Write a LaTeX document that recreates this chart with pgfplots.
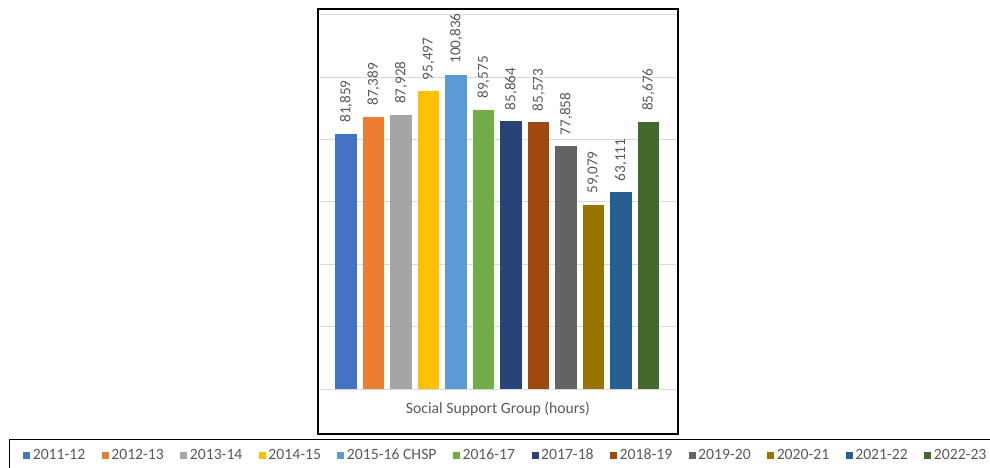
\documentclass[border=0pt]{standalone}
\usepackage{fontspec}
\setmainfont{Carlito}
\usepackage{pgfplots}
\pgfplotsset{compat=1.18}
\definecolor{cA}{HTML}{4472C4}
\definecolor{cB}{HTML}{ED7D31}
\definecolor{cC}{HTML}{A5A5A5}
\definecolor{cD}{HTML}{FFC000}
\definecolor{cE}{HTML}{5B9BD5}
\definecolor{cF}{HTML}{70AD47}
\definecolor{cG}{HTML}{264478}
\definecolor{cH}{HTML}{9E480E}
\definecolor{cI}{HTML}{636363}
\definecolor{cJ}{HTML}{997300}
\definecolor{cK}{HTML}{255E91}
\definecolor{cL}{HTML}{43682B}
\definecolor{gridgray}{HTML}{D9D9D9}
\definecolor{txtgray}{HTML}{595959}
\newcommand\chartfont{\fontsize{15.2bp}{18bp}\selectfont}
\newcommand\legfont{\fontsize{15.7bp}{18bp}\selectfont}
\newcommand\titlefont{\fontsize{15.7bp}{18bp}\selectfont}
\begin{document}
\begin{tikzpicture}
\useasboundingbox (0,0) rectangle (990bp,468bp);
\draw[line width=1.2bp] (318bp,34bp) rectangle (678bp,459bp);
\draw[line width=1bp] (9bp,28bp) rectangle (1000bp,-10bp);
\begin{axis}[
  at={(320bp,79bp)}, anchor=south west,
  scale only axis, width=356bp, height=374bp,
  xmin=-0.95, xmax=12.0, ymin=0, ymax=120000,
  clip=false,
  axis line style={draw=none},
  xtick=\empty, ytick={0,20000,...,120000}, yticklabels={},
  scaled y ticks=false,
  ymajorgrids, major grid style={draw=gridgray, line width=1bp},
  tick style={draw=none},
  ybar, bar width=21.5bp,
  legend image code/.code={\fill[#1, draw=none] (0bp,-3.5bp) rectangle (7bp,3.5bp);},
  nodes near coords,
  nodes near coords style={rotate=90, anchor=west, inner xsep=11bp, inner ysep=0pt, font=\chartfont, text=txtgray},
  /pgf/number format/fixed, /pgf/number format/precision=0,
  /pgf/number format/1000 sep={,}, /pgf/number format/assume math mode=true,
  xlabel={Social Support Group (hours)},
  xlabel style={at={(axis description cs:0.5,0)}, anchor=center, yshift=-20bp, font=\titlefont, text=txtgray},
  legend columns=12,
  legend style={at={(axis description cs:-0.834,-0.1765)}, anchor=west, draw=none, fill=none,
    inner sep=0pt, font=\legfont, text=txtgray,
    nodes={inner xsep=0pt},
    /tikz/every odd column/.append style={column sep=2.5bp},
    /tikz/every even column/.append style={column sep=16.5bp}},
]
\addplot[fill=cA, draw=none, bar shift=0pt] coordinates {(0,81859)};
\addplot[fill=cB, draw=none, bar shift=0pt] coordinates {(1,87389)};
\addplot[fill=cC, draw=none, bar shift=0pt] coordinates {(2,87928)};
\addplot[fill=cD, draw=none, bar shift=0pt] coordinates {(3,95497)};
\addplot[fill=cE, draw=none, bar shift=0pt] coordinates {(4,100836)};
\addplot[fill=cF, draw=none, bar shift=0pt] coordinates {(5,89575)};
\addplot[fill=cG, draw=none, bar shift=0pt] coordinates {(6,85864)};
\addplot[fill=cH, draw=none, bar shift=0pt] coordinates {(7,85573)};
\addplot[fill=cI, draw=none, bar shift=0pt] coordinates {(8,77858)};
\addplot[fill=cJ, draw=none, bar shift=0pt] coordinates {(9,59079)};
\addplot[fill=cK, draw=none, bar shift=0pt] coordinates {(10,63111)};
\addplot[fill=cL, draw=none, bar shift=0pt] coordinates {(11,85676)};
\legend{2011-12, 2012-13, 2013-14, 2014-15, 2015-16 CHSP, 2016-17, 2017-18, 2018-19, 2019-20, 2020-21, 2021-22, 2022-23}
\end{axis}
\end{tikzpicture}
\end{document}
